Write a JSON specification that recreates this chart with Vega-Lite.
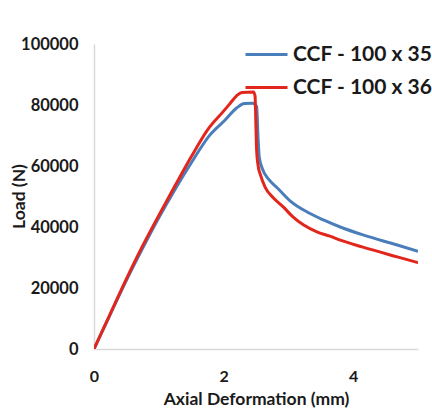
{
  "$schema": "https://vega.github.io/schema/vega-lite/v6.json",
  "width": 324,
  "height": 305,
  "autosize": {"type": "none"},
  "padding": {"left": 94, "top": 44, "right": 14, "bottom": 71},
  "background": "white",
  "config": {
    "view": {"stroke": null},
    "font": "Lato",
    "axis": {"labelFont": "Lato", "titleFont": "Lato", "labelColor": "#1a1a1a", "titleColor": "#1a1a1a"}
  },
  "data": {
    "values": [
      {"series": "CCF - 100 x 35", "d": 0, "load": 0},
      {"series": "CCF - 100 x 35", "d": 0.25, "load": 11300},
      {"series": "CCF - 100 x 35", "d": 0.5, "load": 22500},
      {"series": "CCF - 100 x 35", "d": 0.75, "load": 33000},
      {"series": "CCF - 100 x 35", "d": 1.0, "load": 43000},
      {"series": "CCF - 100 x 35", "d": 1.25, "load": 52300},
      {"series": "CCF - 100 x 35", "d": 1.5, "load": 61000},
      {"series": "CCF - 100 x 35", "d": 1.79, "load": 70200},
      {"series": "CCF - 100 x 35", "d": 2.02, "load": 75000},
      {"series": "CCF - 100 x 35", "d": 2.2, "load": 79000},
      {"series": "CCF - 100 x 35", "d": 2.32, "load": 80500},
      {"series": "CCF - 100 x 35", "d": 2.45, "load": 80600},
      {"series": "CCF - 100 x 35", "d": 2.51, "load": 79500},
      {"series": "CCF - 100 x 35", "d": 2.53, "load": 70000},
      {"series": "CCF - 100 x 35", "d": 2.55, "load": 63000},
      {"series": "CCF - 100 x 35", "d": 2.6, "load": 59000},
      {"series": "CCF - 100 x 35", "d": 2.7, "load": 55500},
      {"series": "CCF - 100 x 35", "d": 2.83, "load": 52800},
      {"series": "CCF - 100 x 35", "d": 3.03, "load": 48500},
      {"series": "CCF - 100 x 35", "d": 3.29, "load": 44900},
      {"series": "CCF - 100 x 35", "d": 3.54, "load": 42300},
      {"series": "CCF - 100 x 35", "d": 3.8, "load": 40000},
      {"series": "CCF - 100 x 35", "d": 4.15, "load": 37400},
      {"series": "CCF - 100 x 35", "d": 4.68, "load": 34100},
      {"series": "CCF - 100 x 35", "d": 5.0, "load": 32000},
      {"series": "CCF - 100 x 36", "d": 0, "load": 0},
      {"series": "CCF - 100 x 36", "d": 0.25, "load": 11500},
      {"series": "CCF - 100 x 36", "d": 0.5, "load": 23000},
      {"series": "CCF - 100 x 36", "d": 0.75, "load": 33800},
      {"series": "CCF - 100 x 36", "d": 1.0, "load": 43800},
      {"series": "CCF - 100 x 36", "d": 1.25, "load": 53500},
      {"series": "CCF - 100 x 36", "d": 1.5, "load": 63000},
      {"series": "CCF - 100 x 36", "d": 1.75, "load": 71800},
      {"series": "CCF - 100 x 36", "d": 2.0, "load": 78000},
      {"series": "CCF - 100 x 36", "d": 2.1, "load": 80500},
      {"series": "CCF - 100 x 36", "d": 2.2, "load": 83000},
      {"series": "CCF - 100 x 36", "d": 2.28, "load": 84100},
      {"series": "CCF - 100 x 36", "d": 2.46, "load": 84300},
      {"series": "CCF - 100 x 36", "d": 2.485, "load": 83000},
      {"series": "CCF - 100 x 36", "d": 2.5, "load": 72000},
      {"series": "CCF - 100 x 36", "d": 2.51, "load": 65000},
      {"series": "CCF - 100 x 36", "d": 2.53, "load": 60500},
      {"series": "CCF - 100 x 36", "d": 2.57, "load": 57000},
      {"series": "CCF - 100 x 36", "d": 2.64, "load": 53100},
      {"series": "CCF - 100 x 36", "d": 2.77, "load": 49500},
      {"series": "CCF - 100 x 36", "d": 2.92, "load": 46600},
      {"series": "CCF - 100 x 36", "d": 3.07, "load": 43300},
      {"series": "CCF - 100 x 36", "d": 3.23, "load": 40700},
      {"series": "CCF - 100 x 36", "d": 3.44, "load": 38400},
      {"series": "CCF - 100 x 36", "d": 3.64, "load": 37000},
      {"series": "CCF - 100 x 36", "d": 3.8, "load": 35700},
      {"series": "CCF - 100 x 36", "d": 4.15, "load": 33400},
      {"series": "CCF - 100 x 36", "d": 4.68, "load": 30200},
      {"series": "CCF - 100 x 36", "d": 5.0, "load": 28300}
    ]
  },
  "mark": {"type": "line", "interpolate": "monotone", "strokeWidth": 3, "clip": true},
  "encoding": {
    "x": {
      "field": "d", "type": "quantitative",
      "scale": {"domain": [0, 5], "nice": false},
      "axis": {
        "title": "Axial Deformation (mm)", "titleFontSize": 17.5, "titleFontWeight": "bold", "titlePadding": 6,
        "values": [0, 2, 4], "format": "d", "labelFontSize": 16, "labelFontWeight": "bold", "labelFlush": false,
        "labelPadding": 19, "ticks": false, "grid": false, "domainColor": "#d9d9d9", "domainWidth": 1.5
      }
    },
    "y": {
      "field": "load", "type": "quantitative",
      "scale": {"domain": [0, 100000], "nice": false},
      "axis": {
        "title": "Load (N)", "titleFontSize": 17.5, "titleFontWeight": "bold",
        "titleX": -75, "titleY": 152, "titleBaseline": "middle", "titleAlign": "center", "titleAngle": -90,
        "values": [0, 20000, 40000, 60000, 80000, 100000], "format": "d", "labelFontSize": 16.5, "labelFontWeight": "bold",
        "labelPadding": 16, "ticks": false, "grid": false, "domainColor": "#d9d9d9", "domainWidth": 1.5
      }
    },
    "color": {
      "field": "series", "type": "nominal",
      "scale": {"domain": ["CCF - 100 x 35", "CCF - 100 x 36"], "range": ["#4a7ebb", "#e2261c"]},
      "legend": {
        "title": null, "orient": "none", "legendX": 150, "legendY": -12,
        "symbolType": "stroke", "symbolSize": 1764, "symbolStrokeWidth": 3,
        "labelFontSize": 21, "labelFontWeight": "bold", "labelColor": "#1a1a1a", "labelFont": "Lato",
        "rowPadding": -12, "labelOffset": 4
      }
    }
  }
}
